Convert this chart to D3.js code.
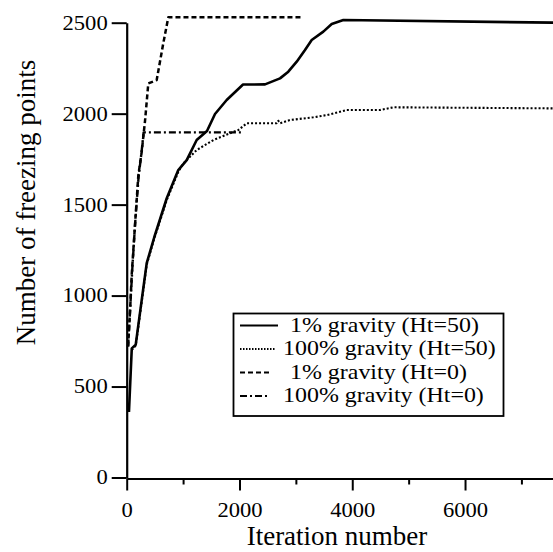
<!DOCTYPE html>
<html><head><meta charset="utf-8">
<script src="https://cdn.jsdelivr.net/npm/d3@7"></script>
<style>
html,body{margin:0;padding:0;background:#fff;}
text{font-family:"Liberation Serif","Times New Roman",serif;fill:#000;}
</style></head>
<body><svg id="c" width="553" height="552"></svg>
<script>
// ---- data ----
const xTicksMajor = [0, 2000, 4000, 6000];
const xTicksMinor = [1000, 3000, 5000, 7000];
const yTicks = [0, 500, 1000, 1500, 2000, 2500];

const seriesNames = ["1% gravity (Ht=50)", "100% gravity (Ht=50)", "1% gravity (Ht=0)", "100% gravity (Ht=0)"];

// 1% gravity (Ht=50)
const s1Iter = [40, 90, 160, 266, 355, 490, 710, 915, 1064, 1241, 1424, 1566, 1773, 2063, 2453, 2719, 2866, 3015, 3162, 3281, 3487, 3636, 3842, 7600];
const s1Val  = [360, 710, 730, 975, 1178, 1322, 1535, 1690, 1745, 1855, 1905, 1998, 2075, 2160, 2161, 2194, 2231, 2286, 2350, 2405, 2451, 2493, 2515, 2500];
// 100% gravity (Ht=50)
const s2Iter = [90, 160, 266, 355, 490, 710, 915, 1004, 1241, 1537, 1832, 1980, 2128, 2660, 2689, 2720, 2897, 3310, 3547, 3902, 4493, 4729, 7600];
const s2Val  = [700, 725, 965, 1170, 1315, 1525, 1680, 1726, 1800, 1855, 1892, 1910, 1947, 1947, 1961, 1947, 1965, 1980, 1992, 2020, 2020, 2035, 2029];
// 1% gravity (Ht=0)
const s3Iter = [25, 60, 90, 150, 206, 266, 325, 383, 532, 649, 738, 3120];
const s3Val  = [720, 920, 1120, 1400, 1660, 1790, 1960, 2166, 2185, 2387, 2530, 2530];
// 100% gravity (Ht=0)
const s4Iter = [25, 60, 100, 150, 210, 260, 300, 413, 2040];
const s4Val  = [720, 920, 1150, 1400, 1650, 1780, 1897, 1897, 1897];

// ---- layout ----
const svg = d3.select("#c");
const x = d3.scaleLinear().domain([0, 7560]).range([126.7, 553]);
const y = d3.scaleLinear().domain([0, 2500]).range([477.5, 22.7]);

const styles = [
  {dash: null, w: 2.6},
  {dash: "2,2", w: 2.1},
  {dash: "5,3", w: 2.5},
  {dash: "7,3,2,3", w: 2.4}
];
const series = [
  s1Iter.map((d, i) => [d, s1Val[i]]),
  s2Iter.map((d, i) => [d, s2Val[i]]),
  s3Iter.map((d, i) => [d, s3Val[i]]),
  s4Iter.map((d, i) => [d, s4Val[i]])
];

function stretchText(sel, k) {
  sel.each(function () {
    const t = d3.select(this);
    const tx = +t.attr("x") || 0;
    const ty = +t.attr("y") || 0;
    t.attr("x", 0).attr("y", 0).attr("transform", `translate(${tx},${ty}) scale(${k},1)`);
  });
}

// axes
const gx = svg.append("g").attr("transform", `translate(0,${y(0) + 1})`)
  .call(d3.axisBottom(x).tickValues(xTicksMajor).tickSize(12).tickSizeOuter(0).tickPadding(14).tickFormat(d3.format("d")));
const gxm = svg.append("g").attr("transform", `translate(0,${y(0) + 1})`)
  .call(d3.axisBottom(x).tickValues(xTicksMinor).tickSize(6).tickSizeOuter(0).tickFormat(""));
gxm.select(".domain").remove();
const gy = svg.append("g").attr("transform", `translate(${x(0)},0)`)
  .call(d3.axisLeft(y).tickValues(yTicks).tickSize(15).tickSizeOuter(0).tickPadding(4).tickFormat(d3.format("d")));

[gx, gxm, gy].forEach(g => {
  g.selectAll(".domain").attr("stroke", "#000").attr("stroke-width", 2.2);
  g.selectAll(".tick line").attr("stroke", "#000").attr("stroke-width", 2);
  g.selectAll("text").attr("font-size", 20).attr("font-family", '"Liberation Serif","Times New Roman",serif').attr("fill", "#000");
});
gx.selectAll(".tick text").attr("dy", "0.62em");
stretchText(gx.selectAll(".tick text"), 1.13);
stretchText(gy.selectAll(".tick text"), 1.13);

// axis titles
svg.append("text").attr("x", 337).attr("y", 545).attr("text-anchor", "middle")
  .attr("font-size", 27).text("Iteration number");
svg.append("text").attr("transform", `translate(35,202.5) rotate(-90)`).attr("text-anchor", "middle")
  .attr("font-size", 27).text("Number of freezing points");

// lines
const line = d3.line().x(d => x(d[0])).y(d => y(d[1]));
series.forEach((s, i) => {
  svg.append("path").datum(s).attr("d", line)
    .attr("fill", "none").attr("stroke", "#000")
    .attr("stroke-width", styles[i].w)
    .attr("stroke-dasharray", styles[i].dash)
    .attr("stroke-linejoin", "round");
});

// legend
const lg = svg.append("g");
lg.append("rect").attr("x", 233.5).attr("y", 313.5).attr("width", 270).attr("height", 102.5)
  .attr("fill", "#fff").attr("stroke", "#000").attr("stroke-width", 1.8);
const rowBase = [331.5, 355, 378.5, 402];
const textX = [290, 283, 290, 283];
const sampleEnd = [278, 276, 270, 270];
seriesNames.forEach((name, i) => {
  lg.append("line").attr("x1", 240).attr("x2", sampleEnd[i])
    .attr("y1", rowBase[i] - 6).attr("y2", rowBase[i] - 6)
    .attr("stroke", "#000").attr("stroke-width", i === 1 ? 1.8 : 2)
    .attr("stroke-dasharray", i === 1 ? "1.5,1.5" : styles[i].dash);
  const t = lg.append("text").attr("x", textX[i]).attr("y", rowBase[i]).attr("font-size", 21).text(name);
  stretchText(t, 1.14);
});
</script></body></html>
